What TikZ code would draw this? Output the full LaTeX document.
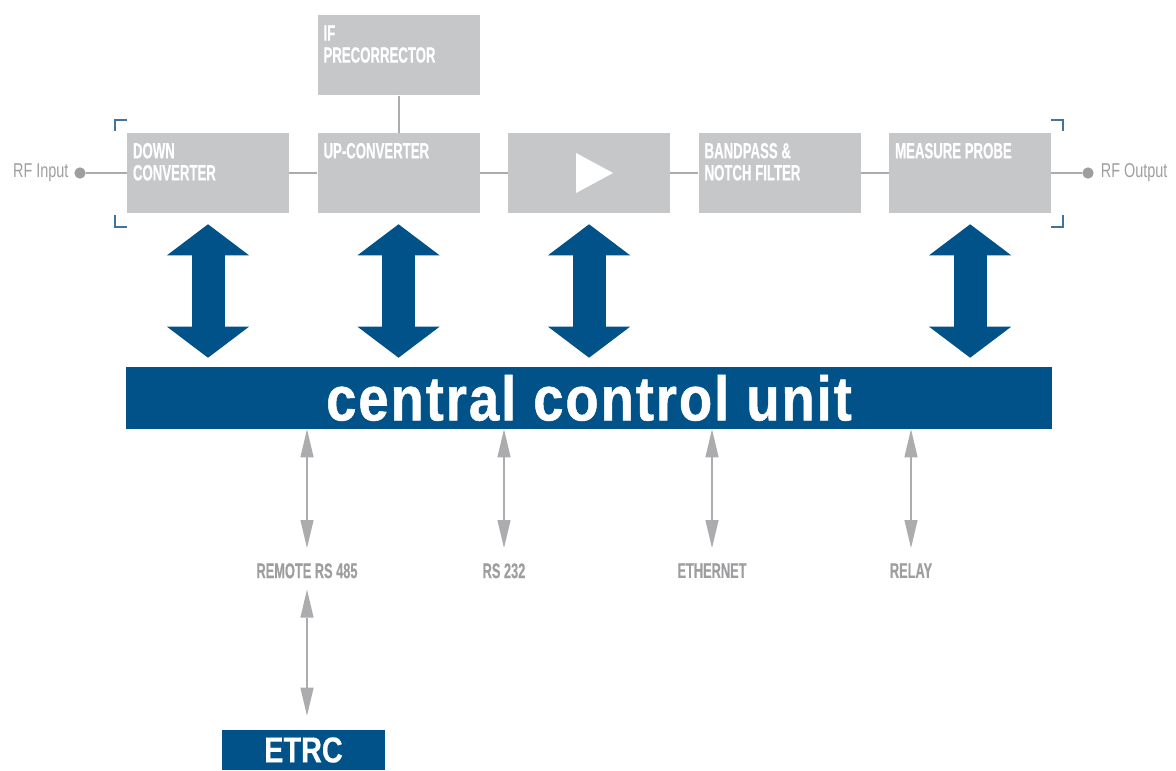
\documentclass[tikz,border=0pt]{standalone}
\usepackage{fontspec}
\setmainfont{Liberation Sans}
\newfontfamily\condfont[FakeStretch=0.6, FakeBold=0.4]{Liberation Sans}
\newfontfamily\thinfont[FakeStretch=0.72]{Liberation Sans}
\newfontfamily\etrcfont[FakeStretch=0.8, FakeBold=0.4]{Liberation Sans}
\newfontfamily\ccufont[FakeStretch=0.87, LetterSpace=3, FakeBold=0.8]{Liberation Sans}
\usetikzlibrary{arrows.meta, positioning, calc}
\usepackage{xcolor}
\definecolor{boxgray}{RGB}{198,199,201}
\definecolor{linegray}{RGB}{172,172,174}
\definecolor{textgray}{RGB}{158,158,160}
\definecolor{unitblue}{RGB}{0,82,136}
\definecolor{bracketblue}{RGB}{62,117,160}

\begin{document}
\begin{tikzpicture}[
        x=0.75pt, y=-0.75pt,
        block/.style={rectangle, fill=boxgray, minimum width=121.5pt, minimum height=60pt, inner sep=0pt},
        blocktext/.style={anchor=north west, inner sep=0pt, align=left, text=white, font=\condfont\bfseries\fontsize{16.5}{16.5}\selectfont},
        signal/.style={linegray, line width=1.5pt},
        dot/.style={circle, fill=textgray, minimum size=8.5pt, inner sep=0pt},
        rftext/.style={inner sep=0pt, text=textgray, font=\thinfont\fontsize{15}{17}\selectfont},
        bracket/.style={bracketblue, line width=1.5pt},
        unit/.style={rectangle, fill=unitblue, text=white, minimum width=694.5pt, minimum height=46.5pt, inner sep=0pt, font=\ccufont\bfseries\fontsize{47}{47}\selectfont},
        bigarrow/.style={unitblue, line width=24.75pt, >={Triangle[length=23.25pt, width=61.5pt, line width=0pt]}, <->},
        smallarrow/.style={linegray, line width=1.5pt, >={Triangle[length=21pt, width=10pt, line width=0pt]}, <->},
        porttext/.style={inner sep=0pt, text=textgray, font=\condfont\bfseries\fontsize{16}{16}\selectfont},
        etrcbox/.style={rectangle, fill=unitblue, text=white, minimum width=122.25pt, minimum height=30pt, inner sep=0pt, font=\etrcfont\bfseries\fontsize{27}{27}\selectfont}
    ]
        \useasboundingbox (0,0) rectangle (1176,770);
        % Blocks
        \node[block] (down) at (208,173) {};
        \node[block, right=21pt of down] (up) {};
        \node[block, right=21pt of up] (amp) {};
        \node[block, right=21pt of amp] (filter) {};
        \node[block, right=21pt of filter] (probe) {};
        \node[block, above=27.75pt of up] (precorr) {};
        \foreach \b/\btext in {
            down/{DOWN\\CONVERTER},
            up/{UP-CONVERTER},
            filter/{BANDPASS \&\\NOTCH FILTER},
            probe/{MEASURE PROBE},
            precorr/{IF\\PRECORRECTOR}} {
            \node[blocktext] (\b-text) at ($(\b.north west)+(6,10)$) {\btext};
        }
        \fill[white] ($(amp.center)+(-13,-20)$) -- ($(amp.center)+(24,0)$) -- ($(amp.center)+(-13,20)$) -- cycle;
        % Signal path
        \node[dot] (rfin) at (80,173) {};
        \node[dot] (rfout) at (1088,173) {};
        \node[rftext, left=4pt of rfin] (rfin-text) {RF Input};
        \node[rftext, right=5pt of rfout] (rfout-text) {RF Output};
        \draw[signal] (rfin) -- (down) -- (up) -- (amp) -- (filter) -- (probe) -- (rfout);
        \draw[signal] (precorr) -- (up);
        % Brackets
        \draw[bracket] ($(down.north west)+(0,-13)$) -- ++(-12,0) -- ++(0,11);
        \draw[bracket] ($(down.south west)+(-12,2)$) -- ++(0,12) -- ++(12,0);
        \draw[bracket] ($(probe.north east)+(0,-13)$) -- ++(12,0) -- ++(0,11);
        \draw[bracket] ($(probe.south east)+(12,2)$) -- ++(0,12) -- ++(-12,0);
        % Central control unit
        \node[unit] (ccu) at (589,398) {central control unit};
        \foreach \b in {down, up, amp, probe} {
            \draw[bigarrow] ($(\b.south)+(0,11)$) -- ($(\b.south |- ccu.north)+(0,-9)$);
        }
        % Interfaces
        \foreach \n/\x/\ntext in {
            rs485/307/REMOTE RS 485,
            rs232/504/RS 232,
            ethernet/712/ETHERNET,
            relay/911/RELAY} {
            \node[porttext, anchor=north] (\n) at (\x,563) {\ntext};
            \draw[smallarrow] (\n.north |- ccu.south) -- ($(\n.north)+(0,-15)$);
        }
        \node[etrcbox] (etrc) at (303.5,750) {ETRC};
        \draw[smallarrow] ($(rs485.south)+(0,11)$) -- ($(rs485.south |- etrc.north)+(0,-14)$);
    \end{tikzpicture}
\end{document}
